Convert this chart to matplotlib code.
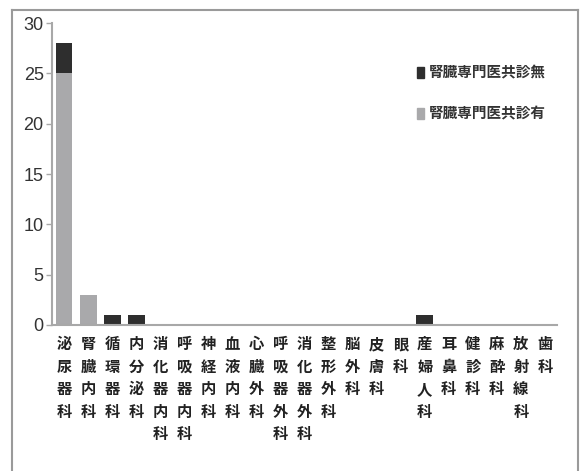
import numpy as np
import matplotlib.pyplot as plt
from matplotlib.patches import Patch
from matplotlib.lines import Line2D

plt.rcParams['font.family'] = ['Noto Sans CJK JP', 'DejaVu Sans']

# 診療科ごとの件数
departments = ['泌尿器科', '腎臓内科', '循環器科', '内分泌科', '消化器内科', '呼吸器内科',
               '神経内科', '血液内科', '心臓外科', '呼吸器外科', '消化器外科', '整形外科',
               '脳外科', '皮膚科', '眼科', '産婦人科', '耳鼻科', '健診科', '麻酔科',
               '放射線科', '歯科']
with_nephro = [25, 3, 0, 0, 0, 0, 0, 0, 0, 0, 0, 0, 0, 0, 0, 0, 0, 0, 0, 0, 0]
without_nephro = [3, 0, 1, 1, 0, 0, 0, 0, 0, 0, 0, 0, 0, 0, 0, 1, 0, 0, 0, 0, 0]
yticks = [0, 5, 10, 15, 20, 25, 30]

dark = '#2e2e2e'
light = '#a9a9ab'
axis_grey = '#a8a8a8'

fig = plt.figure(figsize=(5.8, 4.71), dpi=100)
ax = fig.add_axes([0.0897, 0.310, 0.8705, 0.641])

x = np.arange(len(departments))
ax.bar(x, with_nephro, width=0.7, color=light)
ax.bar(x, without_nephro, width=0.7, bottom=with_nephro, color=dark)

ax.set_xlim(-0.5, len(departments) - 0.5)
ax.set_ylim(0, 30)
ax.set_yticks(yticks)
ax.set_yticklabels([str(v) for v in yticks],
                   family=['Liberation Sans', 'DejaVu Sans'], fontsize=13, color='#333333')
ax.set_xticks(x)
ax.set_xticklabels(['\n'.join(d) for d in departments], fontsize=11,
                   linespacing=1.5, color='#222222', fontweight='bold')
ax.tick_params(axis='x', length=0, pad=8)
ax.tick_params(axis='y', length=4, width=1, color=axis_grey, pad=2)

for side in ['top', 'right']:
    ax.spines[side].set_visible(False)
for side in ['left', 'bottom']:
    ax.spines[side].set_color(axis_grey)
    ax.spines[side].set_linewidth(1.5)

handles = [Patch(color=dark), Patch(color=light)]
labels = ['腎臓専門医共診無', '腎臓専門医共診有']
ax.legend(handles, labels, loc='upper left', bbox_to_anchor=(0.697, 0.907),
          frameon=False, handlelength=0.45, handleheight=0.75, handletextpad=0.35,
          labelspacing=1.75, prop={'size': 10.5, 'weight': 'bold'}, labelcolor='#333333')

# 外枠
frame_kw = dict(color='#9a9a9a', linewidth=1.5, transform=fig.transFigure)
fig.add_artist(Line2D([12 / 580, 12 / 580], [0, 1 - 10 / 471], **frame_kw))
fig.add_artist(Line2D([12 / 580, 578 / 580], [1 - 10 / 471, 1 - 10 / 471], **frame_kw))
fig.add_artist(Line2D([578 / 580, 578 / 580], [0, 1 - 10 / 471], **frame_kw))

fig.savefig('out.png', dpi=100)
